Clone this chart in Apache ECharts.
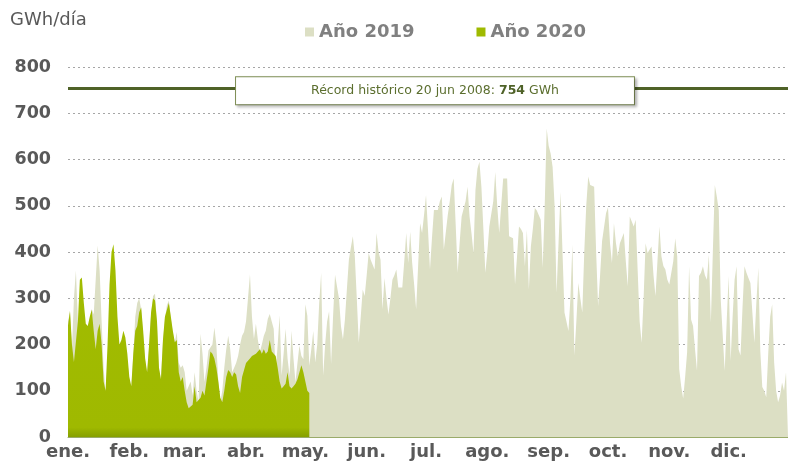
<!DOCTYPE html>
<html>
<head>
<meta charset="utf-8">
<script src="https://cdn.jsdelivr.net/npm/echarts@6/dist/echarts.min.js"></script>
<style>
html,body{margin:0;padding:0;background:#fff;}
#c{width:788px;height:467px;}
</style>
</head>
<body>
<div id="c"></div>
<script>
// ---- Data ----
var monthLabels = ['ene.','feb.','mar.','abr.','may.','jun.','jul.','ago.','sep.','oct.','nov.','dic.'];
var monthStartDays = [0,31,59,90,120,151,181,212,243,273,304,334];
var yTicks = [0,100,200,300,400,500,600,700,800];
var seriesNames = ['Año 2019','Año 2020'];
var recordValue = 754;
var recordText = 'Récord histórico 20 jun 2008: ';
var recordUnit = ' GWh';

// Daily energy (GWh/día), 2019
var values2019 = [
250,270,190,300,360,250,200,230,250,240,
235,255,277,265,340,414,360,250,150,97,
160,260,310,300,260,215,195,185,200,195,
165,125,105,175,260,290,300,275,220,165,
135,195,265,305,310,245,145,125,205,255,
285,295,255,225,205,227,160,150,155,140,
100,110,120,90,140,100,76,223,180,119,
150,187,185,200,237,200,120,76,100,150,
190,219,190,140,150,160,175,200,219,227,
250,300,352,260,212,245,210,184,200,219,
230,255,266,250,234,140,200,263,133,180,
234,170,133,230,170,119,160,198,175,168,
287,262,154,190,229,161,200,290,355,133,
200,250,272,158,260,351,351,300,240,211,
254,320,383,410,434,391,300,204,260,319,
305,350,398,383,383,362,441,400,383,276,
344,300,265,300,340,350,362,323,323,323,
380,441,376,444,376,330,276,370,462,441,
480,523,448,362,430,491,491,491,510,520,
405,405,480,510,545,559,459,355,420,477,
480,510,541,477,440,398,534,580,595,541,
450,355,400,455,452,510,573,500,441,500,
559,559,559,434,430,430,330,390,455,450,
441,369,448,319,412,450,495,490,487,470,
366,500,667,630,613,584,500,312,420,530,
400,269,250,229,300,416,176,250,333,300,
269,400,500,563,545,545,541,400,283,350,
423,419,484,497,420,376,462,420,391,419,
430,441,380,326,477,466,455,470,360,250,
204,300,419,398,398,412,350,305,380,455,
391,370,362,340,330,330,380,430,391,147,
110,83,130,183,369,254,240,190,143,348,
355,369,350,340,394,247,400,545,520,491,
297,220,143,250,348,165,260,340,369,190,
176,280,369,355,344,333,333,204,290,366,
186,108,100,86,180,260,287,161,100,75,
90,118,100,140,140
];

// Daily energy (GWh/día), 2020 (1 ene - 2 may)
var values2020 = [
241,273,200,162,165,250,340,345,290,245,
240,260,275,230,190,230,245,200,120,100,
200,330,400,417,360,260,200,210,230,215,
180,130,110,180,230,240,270,280,230,170,
140,200,270,300,295,250,150,125,210,260,
275,290,260,230,205,210,140,120,130,100,
75,62,62,70,110,75,75,85,100,90,
120,150,185,180,170,150,120,85,75,100,
130,145,140,130,140,135,110,95,130,145,
160,165,170,175,178,180,185,190,180,190,
180,185,210,185,180,175,150,120,105,110,
115,140,110,105,110,115,125,140,155,140,
120,100,95
];

// ---- Chart ----
var categories = values2019.map(function(_, i){ return i; });
var FONT = '"DejaVu Sans", Verdana, sans-serif';
var chart = echarts.init(document.getElementById('c'), null, {renderer:'canvas'});

var option = {
  animation: false,
  backgroundColor: '#ffffff',
  textStyle: {fontFamily: FONT},
  grid: {left: 68, right: 0, top: 67, bottom: 30, containLabel: false},
  title: {
    text: 'GWh/día', left: 10, top: 11, padding: 0,
    textStyle: {fontFamily: FONT, fontSize: 18, fontWeight: 'normal', color: '#595959'}
  },
  legend: {
    data: seriesNames,
    left: 305, top: 23, padding: 0,
    icon: 'rect', itemWidth: 9, itemHeight: 9, itemGap: 62, itemStyle: {borderWidth: 0},
    textStyle: {fontFamily: FONT, fontSize: 18, fontWeight: 'bold', color: '#808080'}
  },
  xAxis: {
    type: 'category',
    data: categories,
    boundaryGap: false,
    axisLine: {lineStyle: {color: '#9aab6a', width: 1}},
    axisTick: {show: false},
    splitLine: {show: false},
    axisLabel: {
      interval: function(idx){ return monthStartDays.indexOf(idx) >= 0; },
      formatter: function(v, idx){
        var k = monthStartDays.indexOf(Number(v));
        return k >= 0 ? monthLabels[k] : '';
      },
      fontFamily: FONT, fontSize: 18, fontWeight: 'bold', color: '#595959', margin: 6
    }
  },
  yAxis: {
    type: 'value', min: yTicks[0], max: yTicks[yTicks.length-1], interval: 100,
    axisLine: {show: false}, axisTick: {show: false},
    splitLine: {lineStyle: {color: '#a6a6a6', type: [2,3], width: 1}},
    axisLabel: {fontFamily: FONT, fontSize: 17.5, fontWeight: 'bold', color: '#595959', margin: 17}
  },
  series: [
    {
      name: seriesNames[0], type: 'line', data: values2019,
      showSymbol: false, symbol: 'none', smooth: false,
      lineStyle: {width: 0},
      itemStyle: {color: '#dcdfc4'},
      areaStyle: {color: '#dcdfc4', opacity: 1},
      z: 2
    },
    {
      name: seriesNames[1], type: 'line', data: values2020,
      showSymbol: false, symbol: 'none', smooth: false,
      lineStyle: {width: 0},
      itemStyle: {color: '#9fba00'},
      areaStyle: {
        opacity: 1,
        color: new echarts.graphic.LinearGradient(0,0,0,1,[
          {offset: 0, color: '#a2bd00'},
          {offset: 0.95, color: '#9fb900'},
          {offset: 1, color: '#86a000'}
        ])
      },
      z: 3,
      markLine: {
        silent: true, symbol: 'none', animation: false,
        lineStyle: {color: '#4f6228', width: 3, type: 'solid'},
        data: [{yAxis: recordValue}],
        label: {
          show: true, position: 'middle', distance: 0,
          offset: [7, 16],
          formatter: function(){ return '{a|' + recordText + '}{b|' + recordValue + '}{a|' + recordUnit + '}'; },
          backgroundColor: '#ffffff',
          borderColor: '#7f8f55', borderWidth: 1,
          padding: [7, 75, 7, 75],
          shadowColor: 'rgba(0,0,0,0.25)', shadowBlur: 3, shadowOffsetX: 2, shadowOffsetY: 2,
          rich: {
            a: {fontFamily: FONT, fontSize: 12.5, color: '#5b6e2e'},
            b: {fontFamily: FONT, fontSize: 12.5, fontWeight: 'bold', color: '#4f6228'}
          }
        }
      }
    }
  ]
};
chart.setOption(option);
</script>
</body>
</html>
